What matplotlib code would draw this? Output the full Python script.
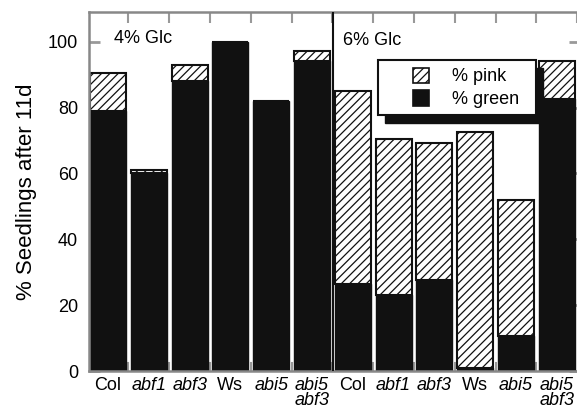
import matplotlib
matplotlib.use("Agg")
import matplotlib.pyplot as plt
from matplotlib.patches import Rectangle
import numpy as np

plt.rcParams['font.family'] = ['Liberation Sans', 'DejaVu Sans']
plt.rcParams['hatch.color'] = '#555555'
plt.rcParams['hatch.linewidth'] = 0.9

labels = ["Col", "abf1", "abf3", "Ws", "abi5", "abi5\nabf3",
          "Col", "abf1", "abf3", "Ws", "abi5", "abi5\nabf3"]
italic = [False, True, True, False, True, True,
          False, True, True, False, True, True]
green = [79, 60, 88, 100, 82, 94,
         26.5, 23, 27.5, 1, 10.5, 82.5]
pink = [11.5, 1, 5, 0, 0, 3.3,
        58.5, 47.5, 41.8, 71.5, 41.5, 11.5]
panel_labels = ["4% Glc", "6% Glc"]
series_names = ["% pink", "% green"]
yticks = [0, 20, 40, 60, 80, 100]

fig = plt.figure(figsize=(5.77, 4.15), dpi=100)
ax = fig.add_axes([89/577, 44/415, 491/577, (371-12)/415])

x = np.arange(len(labels))
w = 0.88
ax.bar(x, green, width=w, color='#111111', edgecolor='#111111', linewidth=1.0, zorder=2)
ax.bar(x, pink, width=w, bottom=green, color='white', edgecolor='#111111', linewidth=1.5,
       hatch='////', zorder=2)

ax.set_xlim(-0.466, 11.57)
ax.set_ylim(0, 109)
ax.axvline(5.51, color='#111111', linewidth=1.5, zorder=3)

ax.set_yticks(yticks)
ax.set_yticklabels([str(t) for t in yticks], fontsize=13)
ax.tick_params(axis='y', direction='in', length=8, width=2, color='#999999', right=True, pad=8)
ax.set_xticks(x + 0.5, minor=False)
ax.set_xticklabels([])
ax.tick_params(axis='x', direction='in', length=8, width=1.5, color='#999999', top=True, bottom=False)
ax.set_xticks(x, minor=True)
ax.set_xticklabels(labels, minor=True, fontsize=13, linespacing=0.85)
ax.tick_params(axis='x', which='minor', length=0, pad=4)
for lbl, it in zip(ax.get_xticklabels(minor=True), italic):
    if it:
        lbl.set_fontstyle('italic')
    lbl.set_verticalalignment('top')

# bottom small ticks at bar boundaries
for xb in x[:-1] + 0.5:
    ax.plot([xb, xb], [0, 2.5], color='#999999', linewidth=1.5, zorder=1, clip_on=False)

for s in ['left', 'top', 'bottom', 'right']:
    ax.spines[s].set_color('#888888')
    ax.spines[s].set_linewidth(1.8)

ax.set_ylabel("% Seedlings after 11d", fontsize=16, labelpad=8)

ax.text(0.15, 100.9, panel_labels[0], fontsize=13, ha='left', va='center', zorder=4)
ax.text(5.75, 100.4, panel_labels[1], fontsize=13, ha='left', va='center', zorder=4)

# legend box with drop shadow (drawn in data coordinates)
fx0, fx1, fy0, fy1 = 6.62, 10.5, 77.8, 94.5
ax.add_patch(Rectangle((fx0 + 0.17, fy0 - 2.4), fx1 - fx0, fy1 - fy0, facecolor='#111111',
                       edgecolor='#111111', zorder=5))
ax.add_patch(Rectangle((fx0, fy0), fx1 - fx0, fy1 - fy0, facecolor='white',
                       edgecolor='#111111', linewidth=1.5, zorder=6))
ax.add_patch(Rectangle((7.48, 87.4), 0.38, 4.6, facecolor='white', edgecolor='#111111',
                       linewidth=1.2, hatch='////', zorder=7))
ax.add_patch(Rectangle((7.48, 80.4), 0.38, 5.0, facecolor='#111111', edgecolor='#111111',
                       linewidth=1.2, zorder=7))
ax.text(8.43, 89.4, series_names[0], fontsize=13, ha='left', va='center', zorder=8)
ax.text(8.43, 82.4, series_names[1], fontsize=13, ha='left', va='center', zorder=8)

fig.savefig("out.png", dpi=100)
